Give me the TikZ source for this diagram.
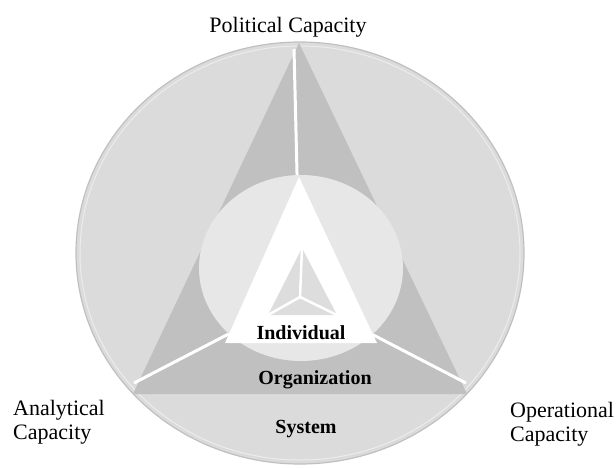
\documentclass[tikz,border=0pt]{standalone}
\usepackage{fontspec}
\setmainfont{Liberation Serif}
\usetikzlibrary{positioning}
\definecolor{DiscGray}{RGB}{219,219,219}
\definecolor{DiscEdge}{RGB}{192,192,192}
\definecolor{DiscRim}{RGB}{236,236,236}
\definecolor{TriGray}{RGB}{192,192,192}
\definecolor{CoreGray}{RGB}{231,231,231}
\definecolor{SmallTriGray}{RGB}{221,221,221}
\tikzstyle{CapacityLabel}=[font=\fontsize{22}{24}\selectfont, align=left, inner sep=0pt]
\tikzstyle{LevelLabel}=[font=\bfseries\fontsize{20}{22}\selectfont, inner sep=0pt, anchor=base]
\tikzstyle{Spoke}=[draw=white, line width=3pt]

\begin{document}
\begin{tikzpicture}[x=1pt,y=-1pt]
			\useasboundingbox (0,0) rectangle (616,467);
			%Disco
			\fill[DiscGray]		(300,253) ellipse [x radius=224pt, y radius=211pt];
			\draw[DiscRim, line width=1pt]	(300,253) ellipse [x radius=220pt, y radius=207pt];
			\draw[DiscEdge, line width=1.2pt]	(300,253) ellipse [x radius=224pt, y radius=211pt];

			%Triangulo
			\coordinate (apex)	at (299,43);
			\coordinate (baseL)	at (133,394);
			\coordinate (baseR)	at (467,394);
			\fill[TriGray] (apex) -- (baseL) -- (baseR) -- cycle;

			%Radios
			\coordinate (hub)		at (300,297);
			\coordinate (endTop)	at (294,49);
			\coordinate (endL)	at (134,383);
			\coordinate (endR)	at (466,383);
			\draw[Spoke] (hub) -- (endTop);
			\draw[Spoke] (hub) -- (endL);
			\draw[Spoke] (hub) -- (endR);

			%Centro
			\fill[CoreGray] (301,268) ellipse [x radius=102pt, y radius=93pt];
			\coordinate (coreTop)	at (299,177);
			\coordinate (coreL)	at (225,343);
			\coordinate (coreR)	at (377,343);
			\fill[white] (coreTop) -- (coreL) -- (coreR) -- cycle;
			\coordinate (smallTop)	at (302,248);
			\coordinate (smallL)	at (268,315);
			\coordinate (smallR)	at (337,315);
			\fill[SmallTriGray] (smallTop) -- (smallL) -- (smallR) -- cycle;
			\draw[Spoke, line width=2.5pt] (hub) -- (smallTop);
			\draw[Spoke, line width=2.5pt] (hub) -- (smallL);
			\draw[Spoke, line width=2.5pt] (hub) -- (smallR);

			%Etiquetas
			\node[CapacityLabel, anchor=base]			(political)		at (288,32)		{Political Capacity};
			\node[CapacityLabel, anchor=north west]	(analytical)	at (13,400)		{Analytical\\Capacity};
			\node[CapacityLabel, anchor=north west]	(operational)	at (510,402)	{Operational\\Capacity};
			\node[LevelLabel]		(individual)		at (301,339)	{Individual};
			\node[LevelLabel]		(organization)	at (315,384)	{Organization};
			\node[LevelLabel]		(system)			at (306,433)	{System};
		\end{tikzpicture}
\end{document}
